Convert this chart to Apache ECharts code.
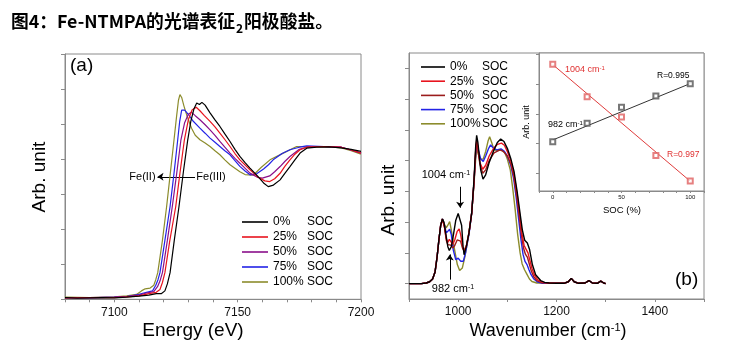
<!DOCTYPE html>
<html><head><meta charset="utf-8">
<script src="https://cdn.jsdelivr.net/npm/echarts@6/dist/echarts.min.js"></script>
<style>html,body{margin:0;padding:0;background:#fff}#c{width:731px;height:354px}</style>
</head><body><div id="c"></div>
<script>
// ---- Panel (a): Fe K-edge XANES, [energy eV, normalized absorption]
const xanes0 = [[7080,0.012],[7085,0.008],[7090,0.01],[7095,0.012],[7100,0.01],[7105,0.015],[7110,0.022],[7114,0.03],[7117,0.04],[7119,0.04],[7120.5,0.06],[7121.5,0.11],[7122.6,0.19],[7124.3,0.42],[7126.2,0.66],[7128,0.91],[7129.7,1.13],[7131,1.27],[7132.3,1.36],[7133.4,1.40],[7134.5,1.39],[7135.5,1.405],[7136.8,1.385],[7138.8,1.33],[7140.8,1.28],[7142.8,1.233],[7144.8,1.18],[7146.9,1.126],[7148.9,1.07],[7150.9,1.019],[7153,0.975],[7155,0.936],[7158,0.88],[7160.5,0.83],[7162.4,0.804],[7164.5,0.815],[7167.2,0.852],[7169.2,0.9],[7171.2,0.947],[7173.2,0.995],[7175.3,1.043],[7178,1.078],[7182,1.085],[7187,1.088],[7192,1.08],[7196,1.07],[7200,1.055]];
const xanes25 = [[7080,0.01],[7090,0.012],[7100,0.012],[7105,0.018],[7110,0.025],[7114,0.04],[7117,0.05],[7118.5,0.07],[7119.5,0.12],[7120.5,0.19],[7122.5,0.42],[7124.9,0.662],[7126.6,0.9],[7128.4,1.138],[7130,1.28],[7131.5,1.35],[7133.2,1.37],[7134.7,1.345],[7136.5,1.31],[7138.8,1.269],[7140.8,1.23],[7142.8,1.186],[7144.8,1.14],[7146.9,1.09],[7148.9,1.04],[7150.9,0.995],[7155,0.924],[7158,0.875],[7161,0.845],[7163,0.84],[7165,0.86],[7167.2,0.899],[7169.2,0.95],[7171.2,0.995],[7173.2,1.035],[7175.3,1.067],[7178,1.085],[7185,1.09],[7192,1.085],[7196,1.065],[7200,1.043]];
const xanes50 = [[7080,0.01],[7090,0.012],[7100,0.015],[7105,0.02],[7110,0.03],[7113,0.045],[7116,0.055],[7117.5,0.09],[7118.5,0.13],[7119.5,0.19],[7121.5,0.42],[7123.5,0.662],[7125.3,0.9],[7127,1.138],[7128.5,1.26],[7130,1.32],[7131.2,1.335],[7132.8,1.31],[7134.7,1.281],[7136.8,1.245],[7138.8,1.209],[7140.8,1.17],[7142.8,1.126],[7144.8,1.085],[7146.9,1.043],[7148.9,1.005],[7150.9,0.971],[7155,0.9],[7158,0.87],[7160,0.864],[7163,0.88],[7165,0.91],[7167.2,0.947],[7169.2,0.985],[7171.2,1.019],[7175,1.07],[7179,1.09],[7185,1.09],[7192,1.085],[7196,1.065],[7200,1.043]];
const xanes75 = [[7080,0.012],[7090,0.01],[7100,0.015],[7105,0.02],[7110,0.035],[7113,0.05],[7115.5,0.06],[7116.8,0.1],[7117.7,0.14],[7118.5,0.19],[7120.5,0.42],[7122.6,0.662],[7124.2,0.9],[7125.7,1.138],[7126.5,1.27],[7127.3,1.35],[7128.5,1.35],[7130,1.32],[7132,1.27],[7134.7,1.221],[7136.8,1.185],[7138.8,1.15],[7140.8,1.12],[7142.8,1.09],[7144.8,1.06],[7146.9,1.031],[7148.9,0.99],[7150.9,0.948],[7153,0.915],[7155,0.888],[7157.7,0.895],[7160.5,0.93],[7162.5,0.96],[7164.4,0.995],[7168,1.04],[7171.2,1.067],[7175,1.085],[7178,1.095],[7185,1.09],[7192,1.085],[7196,1.065],[7200,1.043]];
const xanes100 = [[7080,0.015],[7090,0.012],[7100,0.018],[7105,0.025],[7109,0.035],[7111,0.06],[7112.5,0.075],[7114.5,0.08],[7116,0.1],[7116.8,0.14],[7117.6,0.19],[7119.5,0.42],[7121.2,0.662],[7122.7,0.9],[7124.2,1.138],[7125.2,1.3],[7126,1.42],[7126.6,1.46],[7127.3,1.44],[7128.2,1.38],[7129.3,1.317],[7131.3,1.22],[7132.8,1.17],[7134.7,1.138],[7136.8,1.115],[7138.8,1.09],[7140.8,1.06],[7142.8,1.031],[7144.8,0.995],[7146.9,0.96],[7150.9,0.91],[7153,0.89],[7156.3,0.885],[7159.5,0.94],[7163.1,0.995],[7168.5,1.043],[7173.9,1.09],[7180,1.085],[7186,1.09],[7192,1.08],[7196,1.06],[7200,1.035]];

// ---- Panel (b): spectra, [wavenumber cm-1, intensity]
const tail = [[1185,0.02],[1200,0.01],[1215,0.01],[1224,0.06],[1230,0.17],[1236,0.06],[1245,0.01],[1258,0.02],[1266,0.1],[1273,0.02],[1283,0.01],[1290,0.08],[1296,0.02],[1300,0]];
const head = [[900,0],[925,0],[935,0.02],[942,0.06],[948,0.15],[953,0.38],[957,0.85],[961,1.45],[964.5,1.9],[968,2.1]];
const spec0 = head.concat([[971,2.0],[975,1.6],[979,1.2],[982,1.08],[986,1.2],[990,1.55],[995,2.05],[1000,2.28],[1003.7,2.33],[1007,1.9],[1010,1.2],[1012,0.94],[1016.6,1.21],[1022,1.65],[1027.5,2.29],[1032.2,3.38],[1035.6,4.46],[1037.6,4.82],[1040,4.6],[1042.4,4.24],[1045.8,3.7],[1050.5,3.4],[1055.9,3.54],[1062.7,3.92],[1072.9,4.35],[1079.7,4.59],[1086.5,4.7],[1093.2,4.62],[1100,4.4],[1106.8,4.08],[1113.6,3.65],[1120.4,2.94],[1125.8,2.29],[1130.5,1.75],[1135.3,1.41],[1140.7,1.32],[1145.4,1.1],[1150.9,0.62],[1157.6,0.29],[1167.8,0.1],[1176,0.04]]).concat(tail);
const spec25 = head.concat([[972,1.85],[976,1.45],[979,1.34],[982,1.44],[985,1.38],[989,1.28],[993,1.42],[998,1.7],[1002,1.78],[1005,1.6],[1009,1.2],[1012,1.05],[1016.6,1.22],[1022,1.65],[1027.5,2.29],[1032.2,3.3],[1035.6,4.3],[1037.6,4.66],[1040,4.45],[1044,3.95],[1050,3.72],[1056,3.85],[1063,4.15],[1073,4.42],[1080,4.53],[1088,4.57],[1094,4.5],[1100,4.3],[1107,4.0],[1113,3.6],[1120,2.9],[1125,2.25],[1130,1.6],[1134,1.25],[1138,1.12],[1142,1.0],[1146,0.75],[1150,0.5],[1155,0.28],[1162,0.12],[1172,0.04]]).concat(tail);
const spec50 = head.concat([[972,1.85],[976,1.4],[979,1.27],[982,1.32],[985,1.25],[989,1.16],[993,1.24],[998,1.42],[1002,1.48],[1005,1.38],[1009,1.15],[1012,1.08],[1016.6,1.22],[1022,1.65],[1027.5,2.29],[1032.2,3.3],[1035.6,4.3],[1037.6,4.6],[1040,4.42],[1044,3.9],[1050,3.59],[1056,3.7],[1063,4.0],[1073,4.25],[1085,4.35],[1092,4.3],[1100,4.15],[1107,3.9],[1113,3.5],[1119,2.85],[1124,2.2],[1129,1.55],[1133,1.15],[1137,0.95],[1141,0.85],[1145,0.62],[1149,0.4],[1154,0.22],[1160,0.1],[1170,0.03]]).concat(tail);
const spec75 = head.concat([[972,1.9],[975.9,1.65],[979,1.68],[982.7,1.77],[986,1.6],[990,1.1],[995,0.78],[1000,0.83],[1005,0.73],[1010.5,0.73],[1015,1.0],[1022,1.6],[1027.5,2.29],[1032.2,3.3],[1035.6,4.2],[1038,4.5],[1041,4.35],[1046,4.05],[1051,3.97],[1056,4.15],[1062,4.4],[1066,4.51],[1071,4.42],[1078,4.35],[1087,4.38],[1094,4.3],[1100,4.15],[1107,3.85],[1113,3.4],[1118,2.8],[1123,2.1],[1128,1.4],[1132,0.95],[1136,0.72],[1140,0.62],[1144,0.45],[1148,0.3],[1154,0.15],[1162,0.05],[1172,0.01]]).concat(tail);
const spec100 = head.concat([[971.5,1.95],[975.5,1.81],[979,1.9],[982.7,2.02],[986,1.75],[991.5,1.21],[998.3,0.62],[1003,0.43],[1008.5,0.51],[1013.9,0.89],[1020.7,1.54],[1027.5,2.29],[1032,3.2],[1035.6,4.05],[1038,4.4],[1041,4.2],[1046,4.05],[1051,4.05],[1056,4.3],[1061,4.65],[1064,4.78],[1068,4.6],[1073,4.35],[1080,4.33],[1088,4.35],[1095,4.25],[1100,4.05],[1106,3.7],[1111,3.1],[1116,2.4],[1121,1.6],[1126,1.0],[1130,0.65],[1135,0.45],[1140,0.3],[1145,0.15],[1150,0.07],[1160,0.02]]).concat(tail);

// ---- Inset: peak intensity vs state of charge
const socValues = [0, 25, 50, 75, 100];
const band1004 = [3.67, 2.58, 1.89, 0.6, -0.26];
const band982 = [1.06, 1.68, 2.22, 2.60, 3.01];
const fit1004 = [[0, 3.66], [100, -0.27]];
const fit982 = [[0, 1.12], [100, 3.02]];

const legendPct = ['0%', '25%', '50%', '75%', '100%'];
const xTicksA = [7100, 7150, 7200];
const xTicksB = [1000, 1200, 1400];
const xTicksInset = [0, 50, 100];

const F = 'Liberation Sans';
const colA = ['#000000', '#e8141e', '#8a0f8a', '#2323e6', '#8c8c2c'];
const colB = ['#000000', '#e8141e', '#9b1c1c', '#2323e6', '#8c8c2c'];
const axisCol = '#8a8a8a';

const chart = echarts.init(document.getElementById('c'), null, {renderer: 'canvas'});
const aSeries = [xanes0, xanes25, xanes50, xanes75, xanes100];
const bSeries = [spec0, spec25, spec50, spec75, spec100];

const series = [];
aSeries.forEach((d, i) => series.push({
  name: 'a' + i, type: 'line', xAxisIndex: 0, yAxisIndex: 0, data: d, symbol: 'none',
  lineStyle: {color: colA[i], width: 1.2}, itemStyle: {color: colA[i]}, z: 10 - i,
  markLine: i === 0 ? {silent: true, symbol: ['none', 'arrow'], symbolSize: 6, label: {show: false},
    lineStyle: {color: '#000', width: 1, type: 'solid'},
    data: [[{coord: [7132.7, 0.874]}, {coord: [7117.5, 0.874]}]]} : undefined
}));
bSeries.forEach((d, i) => series.push({
  name: 'b' + i, type: 'line', xAxisIndex: 1, yAxisIndex: 1, data: d, symbol: 'none',
  lineStyle: {color: colB[i], width: 1.4}, itemStyle: {color: colB[i]}, z: 10 - i,
  markLine: i === 0 ? {silent: true, symbol: ['none', 'arrow'], symbolSize: 6, label: {show: false},
    lineStyle: {color: '#000', width: 1, type: 'solid'},
    data: [[{coord: [1004, 3.15]}, {coord: [1004, 2.47]}], [{coord: [983, 0.13]}, {coord: [983, 0.95]}]]} : undefined
}));
series.push({type: 'line', xAxisIndex: 2, yAxisIndex: 2, data: fit1004, symbol: 'none', lineStyle: {color: '#e03c3c', width: 1}});
series.push({type: 'line', xAxisIndex: 2, yAxisIndex: 2, data: fit982, symbol: 'none', lineStyle: {color: '#333', width: 1}});
series.push({type: 'scatter', xAxisIndex: 2, yAxisIndex: 2, data: socValues.map((s, i) => [s, band1004[i]]), symbol: 'emptyRect', symbolSize: 5, itemStyle: {color: '#e06060', borderWidth: 1}, z: 5});
series.push({type: 'scatter', xAxisIndex: 2, yAxisIndex: 2, data: socValues.map((s, i) => [s, band982[i]]), symbol: 'emptyRect', symbolSize: 5, itemStyle: {color: '#555', borderWidth: 1}, z: 5});

function xAx(grid, min, max, interval, labels, fs, margin, tl) {
  return {type: 'value', gridIndex: grid, min, max, interval, position: 'bottom',
    axisLine: {show: true, onZero: false, lineStyle: {color: axisCol, width: 1}},
    axisTick: {show: true, length: tl, lineStyle: {color: axisCol}},
    axisLabel: {show: true, fontFamily: F, fontSize: fs, color: '#111', margin,
      formatter: v => labels.indexOf(v) >= 0 ? String(v) : ''},
    splitLine: {show: false}};
}
function yAx(grid, min, max, ticks, tl) {
  return {type: 'value', gridIndex: grid, min, max,
    axisLine: {show: true, onZero: false, lineStyle: {color: axisCol, width: 1}},
    axisTick: {show: true, length: tl, customValues: ticks, lineStyle: {color: axisCol}},
    axisLabel: {show: false}, splitLine: {show: false}};
}

const legendBase = (idx, left, top, gap, w, pw) => ({
  data: [0, 1, 2, 3, 4].map(i => idx + i), orient: 'vertical', left, top, itemWidth: w, itemHeight: 1.6, itemGap: gap,
  icon: 'rect', selectedMode: false, padding: 0,
  textStyle: {fontFamily: F, fontSize: 12, lineHeight: 14, color: '#000',
    rich: {p: {width: pw, fontFamily: F, fontSize: 12, lineHeight: 14}, s: {fontFamily: F, fontSize: 12, lineHeight: 14}}},
  formatter: n => '{p|' + legendPct[+n.slice(1)] + '}{s|SOC}'
});

chart.setOption({
  animation: false,
  backgroundColor: '#fff',
  grid: [
    {left: 65, top: 54, width: 296, height: 245.3, show: true, borderColor: axisCol, borderWidth: 1},
    {left: 409, top: 53, width: 295, height: 246, show: true, borderColor: axisCol, borderWidth: 1},
    {left: 539, top: 53, width: 165, height: 138, show: true, borderColor: axisCol, borderWidth: 1, backgroundColor: '#fff'}
  ],
  xAxis: [
    xAx(0, 7080, 7200, 10, xTicksA, 12, 7, 3),
    xAx(1, 900, 1500, 100, xTicksB, 12, 7, 3),
    xAx(2, -10, 110, 10, xTicksInset, 6, 3, 2)
  ],
  yAxis: [
    yAx(0, 0, 1.75, [0, 0.25, 0.5, 0.75, 1, 1.25, 1.5, 1.75], 4),
    yAx(1, -0.5, 7.5, [0, 1, 2, 3, 4, 5, 6, 7], 4),
    yAx(2, -0.6, 4.05, [0, 1, 2, 3, 4], 3)
  ],
  legend: [legendBase('a', 242, 215, 1, 26, 34), legendBase('b', 421, 60, 0.2, 24, 32)],
  series
});

// text annotations
const T = (text, x, y, size, opt) => Object.assign({
  type: 'text', z: 100, silent: true,
  style: Object.assign({text, x, y, fontFamily: F, fontSize: size, fill: '#000',
    align: 'center', verticalAlign: 'middle', textAlign: 'center', textVerticalAlign: 'middle'}, (opt && opt.style) || {})
}, (opt && opt.el) || {});
const sup = s => ({s: {fontSize: s, fontFamily: F, verticalAlign: 'top'}});
const pa = p => chart.convertToPixel({gridIndex: 0}, p);
const pb = p => chart.convertToPixel({gridIndex: 1}, p);
const fe2 = pa([7111.4, 0.874]), fe3 = pa([7139.2, 0.874]);
const l1004 = pb([975, 3.54]), l982 = pb([989.5, -0.19]);

chart.setOption({graphic: [
  T('图4：Fe-NTMPA的光谱表征{s|2}阳极酸盐。', 11, 21, 17.8, {style: {fontFamily: 'Noto Sans CJK SC', fontWeight: 'bold', lineHeight: 26, align: 'left', textAlign: 'left',
    rich: {s: {fontSize: 12, fontWeight: 'bold', fontFamily: 'Noto Sans CJK SC', lineHeight: 14, verticalAlign: 'bottom', padding: [0, 1, 0, 1]}}}}),
  T('(a)', 70, 66, 19, {style: {align: 'left', textAlign: 'left'}}),
  T('(b)', 675, 280, 19, {style: {align: 'left', textAlign: 'left'}}),
  T('Energy (eV)', 193, 331, 19),
  T('Wavenumber (cm{s|-1})', 548, 331, 18, {style: {rich: sup(11)}}),
  T('Arb. unit', 40, 177, 19, {el: {rotation: Math.PI / 2, x: 40, y: 177}, style: {x: 0, y: 0}}),
  T('Arb. unit', 389, 200, 19, {el: {rotation: Math.PI / 2, x: 389, y: 200}, style: {x: 0, y: 0}}),
  T('Fe(II)', fe2[0], fe2[1], 11),
  T('Fe(III)', fe3[0], fe3[1], 11),
  T('1004 cm{s|-1}', l1004[0], l1004[1], 11, {style: {rich: sup(7)}}),
  T('982 cm{s|-1}', l982[0], l982[1], 11, {style: {rich: sup(7)}}),
  T('1004 cm{s|-1}', 565, 70, 9, {style: {fill: '#e03030', align: 'left', textAlign: 'left', rich: {s: {fontSize: 6, fill: '#e03030', fontFamily: F, verticalAlign: 'top'}}}}),
  T('R=0.995', 657, 76, 8.5, {style: {align: 'left', textAlign: 'left'}}),
  T('982 cm{s|-1}', 548, 125, 9, {style: {align: 'left', textAlign: 'left', rich: sup(6)}}),
  T('R=0.997', 667, 155, 8.5, {style: {fill: '#e03030', align: 'left', textAlign: 'left'}}),
  T('Arb. unit', 527, 122, 9, {el: {rotation: Math.PI / 2, x: 527, y: 122}, style: {x: 0, y: 0}}),
  T('SOC (%)', 622, 210, 9.5)
]});
</script></body></html>
